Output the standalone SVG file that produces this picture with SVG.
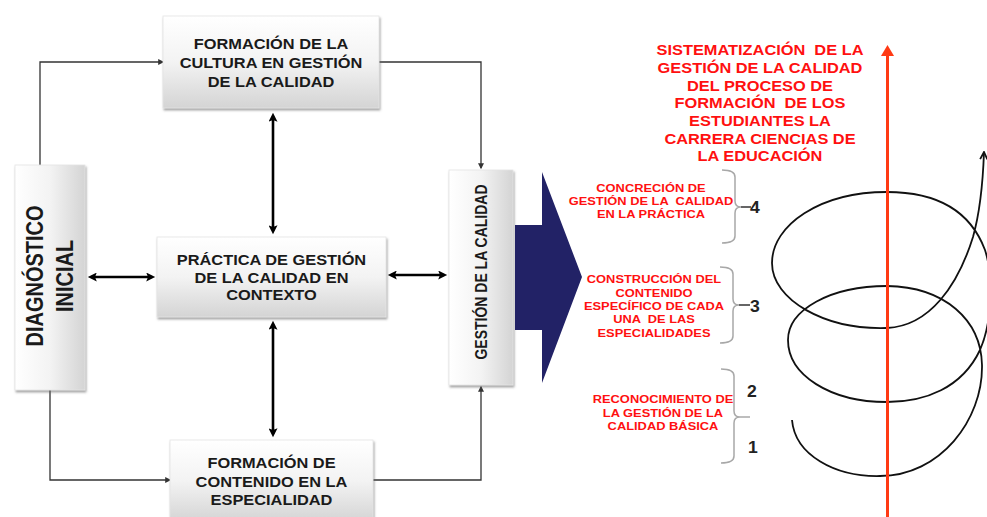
<svg xmlns="http://www.w3.org/2000/svg" width="987" height="517" viewBox="0 0 987 517">
<style>
.bt{font-family:"Liberation Sans",Arial,sans-serif;font-weight:bold;font-size:14px;fill:#1a1a1a;text-anchor:middle}
.big{font-size:20px}
.rt{font-family:"Liberation Sans",Arial,sans-serif;font-weight:bold;font-size:14px;fill:#ff1010;text-anchor:middle}
.rs{font-family:"Liberation Sans",Arial,sans-serif;font-weight:bold;font-size:11px;fill:#ff1010;text-anchor:middle}
.dg{font-family:"Liberation Sans",Arial,sans-serif;font-weight:bold;font-size:16px;fill:#222}
.thin{fill:none;stroke:#333;stroke-width:1.3}
.thick{fill:none;stroke:#000;stroke-width:2.6}
.box{stroke:#e4e4e4;stroke-width:0.8;filter:url(#sh)}
.br{fill:none;stroke:#a8a8a8;stroke-width:1.5}
.dash{fill:none;stroke:#333;stroke-width:1.5}
</style>
<defs>
<linearGradient id="gv" x1="0" y1="0" x2="0" y2="1">
<stop offset="0" stop-color="#ffffff"/><stop offset="0.5" stop-color="#f3f3f3"/><stop offset="1" stop-color="#d4d4d4"/>
</linearGradient>
<linearGradient id="gh" x1="0" y1="0" x2="1" y2="0">
<stop offset="0" stop-color="#ffffff"/><stop offset="0.5" stop-color="#f3f3f3"/><stop offset="1" stop-color="#d4d4d4"/>
</linearGradient>
<filter id="sh" x="-10%" y="-10%" width="130%" height="130%">
<feDropShadow dx="1" dy="2" stdDeviation="1.3" flood-color="#666" flood-opacity="0.6"/>
</filter>
<marker id="ta" viewBox="0 0 10 10" refX="8" refY="5" markerWidth="7" markerHeight="6" orient="auto" markerUnits="userSpaceOnUse">
<path d="M0,0 L10,5 L0,10 z" fill="#333"/>
</marker>
<marker id="tk" viewBox="0 0 10 10" refX="6" refY="5" markerWidth="11" markerHeight="9" orient="auto-start-reverse" markerUnits="userSpaceOnUse">
<path d="M0,0 L10,5 L0,10 L2,5 z" fill="#000"/>
</marker>
<marker id="sa" viewBox="0 0 10 10" refX="9" refY="5" markerWidth="9" markerHeight="9" orient="auto" markerUnits="userSpaceOnUse">
<path d="M1,1 L9,5 L1,9" fill="none" stroke="#111" stroke-width="2"/>
</marker>
</defs>

<g id="connectors">
<polyline class="thin" points="40,165 40,62 163,62" marker-end="url(#ta)"/>
<polyline class="thin" points="379,62 481,62 481,168" marker-end="url(#ta)"/>
<polyline class="thin" points="50,390 50,480 170,480" marker-end="url(#ta)"/>
<polyline class="thin" points="373,480 481,480 481,387" marker-end="url(#ta)"/>
<line class="thick" x1="273" y1="116.4" x2="273" y2="230.6" marker-start="url(#tk)" marker-end="url(#tk)"/>
<line class="thick" x1="273" y1="324.4" x2="273" y2="433.6" marker-start="url(#tk)" marker-end="url(#tk)"/>
<line class="thick" x1="91.4" y1="277" x2="151.6" y2="277" marker-start="url(#tk)" marker-end="url(#tk)"/>
<line class="thick" x1="391.4" y1="275" x2="443.6" y2="275" marker-start="url(#tk)" marker-end="url(#tk)"/>
</g>

<g id="n-formacion-cultura">
<rect class="box" x="163" y="16" width="216" height="92" fill="url(#gv)"/>
<g transform="translate(271,0) scale(1.17,1)">
<text class="bt" x="0" y="49">FORMACIÓN DE LA</text>
<text class="bt" x="0" y="68">CULTURA EN GESTIÓN</text>
<text class="bt" x="0" y="87">DE LA CALIDAD</text>
</g>
</g>

<g id="n-practica">
<rect class="box" x="157" y="237" width="229" height="80" fill="url(#gv)"/>
<g transform="translate(271.5,0) scale(1.17,1)">
<text class="bt" x="0" y="265">PRÁCTICA DE GESTIÓN</text>
<text class="bt" x="0" y="283">DE LA CALIDAD EN</text>
<text class="bt" x="0" y="300.5">CONTEXTO</text>
</g>
</g>

<g id="n-formacion-contenido">
<rect class="box" x="170" y="440" width="203" height="82" fill="url(#gv)"/>
<g transform="translate(271.5,0) scale(1.17,1)">
<text class="bt" x="0" y="468">FORMACIÓN DE</text>
<text class="bt" x="0" y="487">CONTENIDO EN LA</text>
<text class="bt" x="0" y="505">ESPECIALIDAD</text>
</g>
</g>

<g id="n-diagnostico">
<rect class="box" x="15" y="165" width="70" height="225" fill="url(#gh)"/>
<g transform="translate(50,276) scale(1.17,1) rotate(-90)">
<text class="bt big" x="0" y="-6">DIAGNÓSTICO</text>
<text class="bt big" x="0" y="19.5">INICIAL</text>
</g>
</g>

<g id="n-gestion">
<rect class="box" x="449" y="170" width="64" height="215" fill="url(#gh)"/>
<g transform="translate(481,272) scale(1.17,1) rotate(-90)">
<text class="bt" x="0" y="5.5">GESTIÓN DE LA CALIDAD</text>
</g>
</g>

<g id="n-flecha-azul">
<polygon points="515,225 542,225 542,172 582,277 542,383 542,330 515,330" fill="#222266"/>
</g>

<g id="n-titulo">
<g transform="translate(760,0) scale(1.17,1)">
<text class="rt" x="0" y="55" xml:space="preserve">SISTEMATIZACIÓN  DE LA</text>
<text class="rt" x="0" y="73.3">GESTIÓN DE LA CALIDAD</text>
<text class="rt" x="0" y="90.7">DEL PROCESO DE</text>
<text class="rt" x="0" y="108.3" xml:space="preserve">FORMACIÓN  DE LOS</text>
<text class="rt" x="0" y="126.5">ESTUDIANTES LA</text>
<text class="rt" x="0" y="144">CARRERA CIENCIAS DE</text>
<text class="rt" x="0" y="161.5">LA EDUCACIÓN</text>
</g>
</g>

<g id="n-etapa4">
<g transform="translate(651,0) scale(1.17,1)">
<text class="rs" x="0" y="192">CONCRECIÓN DE</text>
<text class="rs" x="0" y="205.2" xml:space="preserve">GESTIÓN DE LA  CALIDAD</text>
<text class="rs" x="0" y="218.3">EN LA PRÁCTICA</text>
</g>
<path class="br" d="M722,170 Q735,170 735,177 L735,201 Q735,207 741,207 Q735,207 735,213 L735,236 Q735,243 722,243"/>
<line class="dash" x1="741" y1="207" x2="751" y2="207"/>
<text class="dg" x="750" y="213" transform="translate(750,0) scale(1.1,1) translate(-750,0)">4</text>
</g>

<g id="n-etapa3">
<g transform="translate(654,0) scale(1.17,1)">
<text class="rs" x="0" y="283.3">CONSTRUCCIÓN DEL</text>
<text class="rs" x="0" y="296.7">CONTENIDO</text>
<text class="rs" x="0" y="310">ESPECÍFICO DE CADA</text>
<text class="rs" x="0" y="323.3" xml:space="preserve">UNA  DE LAS</text>
<text class="rs" x="0" y="336.7">ESPECIALIDADES</text>
</g>
<path class="br" d="M720,267 Q733,267 733,274 L733,299 Q733,305 739,305 Q733,305 733,311 L733,336 Q733,343 720,343"/>
<line class="dash" x1="739" y1="305" x2="750" y2="305"/>
<text class="dg" x="750" y="312" transform="translate(750,0) scale(1.1,1) translate(-750,0)">3</text>
</g>

<g id="n-etapa12">
<g transform="translate(663,0) scale(1.17,1)">
<text class="rs" x="0" y="403.3">RECONOCIMIENTO DE</text>
<text class="rs" x="0" y="416.7">LA GESTIÓN DE LA</text>
<text class="rs" x="0" y="430">CALIDAD BÁSICA</text>
</g>
<path class="br" d="M721,369 Q734,369 734,376 L734,411 Q734,417 740,417 Q734,417 734,423 L734,456 Q734,463 721,463"/>
<line class="br" x1="740" y1="417" x2="750" y2="417"/>
<text class="dg" x="747" y="397" transform="translate(747,0) scale(1.1,1) translate(-747,0)">2</text>
<text class="dg" x="748" y="453" transform="translate(748,0) scale(1.1,1) translate(-748,0)">1</text>
</g>

<g id="n-espiral">
<path d="M792,420 C795,455 835,477 880,476 C940,476 983,420 982,365 C981,320 945,287 887,286 C830,286 788,310 788,340 C788,375 830,402 887,402 C925,402 962,388 980,350 C993,320 993,275 985,250 C970,210 935,192 887,192 C820,192 772,225 772,263 C772,300 825,330 887,328 C930,326 958,285 973,237 C980,212 983,180 984,152" fill="none" stroke="#111" stroke-width="1.8" marker-end="url(#sa)"/>
</g>

<g id="n-eje">
<line x1="887.5" y1="54" x2="887.5" y2="517" stroke="#ff3a14" stroke-width="3"/>
<polygon points="887.5,45 881,56 894,56" fill="#ff3a14"/>
</g>
</svg>
